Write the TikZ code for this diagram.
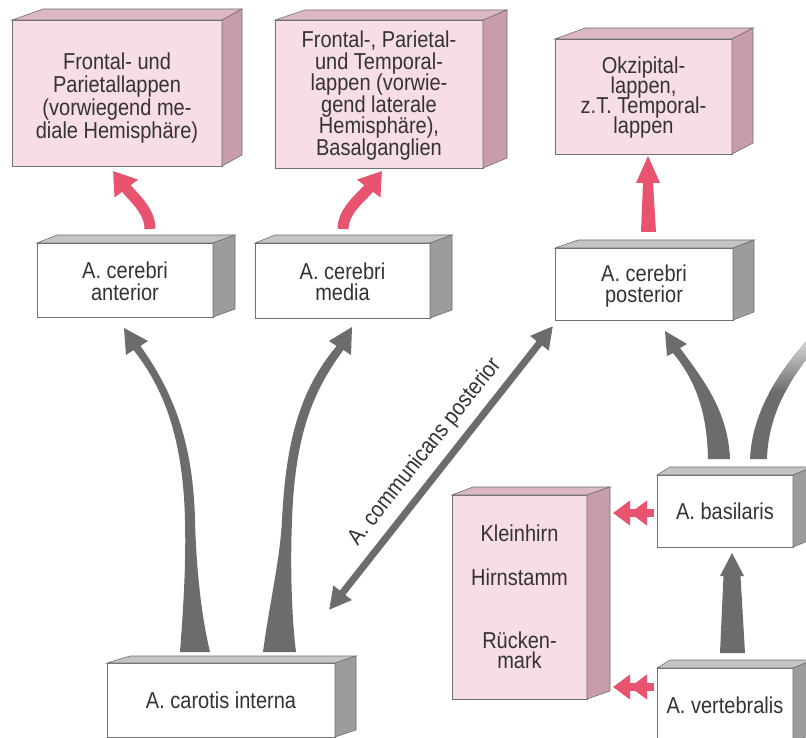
\documentclass[tikz,border=0pt]{standalone}
\usepackage{fontspec}
\setmainfont{Liberation Sans}[FakeStretch=0.87]
\usetikzlibrary{arrows.meta}
\definecolor{pinkfront}{HTML}{F7DDE4}
\definecolor{pinktop}{HTML}{DDB8C3}
\definecolor{pinkside}{HTML}{C79DAA}
\definecolor{graytop}{HTML}{C4C4C4}
\definecolor{grayside}{HTML}{9C9C9C}
\definecolor{edgecol}{HTML}{707070}
\definecolor{arrpink}{HTML}{E8536F}
\definecolor{arrgray}{HTML}{6C6C6C}
\definecolor{txt}{HTML}{333333}
% #1 node, #2 left depth dx, #3 right depth dx, #4 depth up, #5 top colour, #6 side colour
\newcommand{\cubefaces}[6]{%
  \filldraw[facedraw, fill=#5] (#1.north west) -- ([shift={(#2,-#4)}]#1.north west) -- ([shift={(#3,-#4)}]#1.north east) -- (#1.north east) -- cycle;
  \filldraw[facedraw, fill=#6] (#1.north east) -- ([shift={(#3,-#4)}]#1.north east) -- ([shift={(#3,-#4)}]#1.south east) -- (#1.south east) -- cycle;
}
\newcommand{\pushdown}[1]{\rule{0pt}{#1}}
\newcommand{\boxfont}[1]{\fontsize{23}{#1}\selectfont\lineskiplimit=-30pt\relax}
\begin{document}
\begin{tikzpicture}[x=1pt,y=-1pt,
  box/.style={draw=edgecol, line width=0.6pt, inner sep=0pt, outer sep=0pt, align=center, text=txt, font=\boxfont{21.5pt}},
  pinkbox/.style={box, fill=pinkfront},
  whitebox/.style={box, fill=white},
  facedraw/.style={draw=edgecol, line width=0.6pt},
  pinkarrow/.style={draw=arrpink, line width=11pt, -{Triangle[length=22pt,width=28pt]}},
  pinkfill/.style={fill=arrpink},
  grayfill/.style={fill=arrgray},
  grayarrow/.style={draw=arrgray, line width=7pt, {Triangle[length=22pt,width=22pt]}-{Triangle[length=22pt,width=22pt]}},
  pinkdouble/.style={draw=arrpink, line width=8pt, -{Triangle[length=17pt,width=24pt]Triangle[length=17pt,width=24pt]}},
  labeltext/.style={text=txt, font=\boxfont{22pt}, inner sep=0pt},
  ]
\clip (0,0) rectangle (806,738);
\fill[white] (0,0) rectangle (806,738);

% ---------- gray arrows (drawn first, boxes on top) ----------
% carotis -> cerebri anterior
\fill[grayfill] (180,652) .. controls (184,600) and (186,560) .. (185,520)
  .. controls (183,440) and (165,390) .. (133.6,350.1)
  -- (126,355) -- (124,328) -- (148,341) -- (140.4,345.9)
  .. controls (172,390) and (193,440) .. (195,520)
  .. controls (196,560) and (200,610) .. (210,652) -- cycle;
% carotis -> cerebri media
\fill[grayfill] (263,652) .. controls (270,600) and (280,560) .. (282,520)
  .. controls (286,440) and (300,390) .. (336.6,346)
  -- (329,341) -- (352,327) -- (351,355) -- (343.4,350)
  .. controls (310,395) and (295,440) .. (292,520)
  .. controls (290,570) and (292,620) .. (296,652) -- cycle;
% basilaris -> cerebri posterior
\fill[grayfill] (708,459) .. controls (707,410) and (695,380) .. (673,353)
  -- (667,356) -- (665,331) -- (687,344) -- (680,348)
  .. controls (702,378) and (728,410) .. (730,459) -- cycle;
% basilaris -> off to the right (other side), fading out at the edge
\begin{scope}
  \clip (750,459) .. controls (752,415) and (775,375) .. (812,335)
    -- (812,352) .. controls (785,385) and (768,420) .. (767,459) -- cycle;
  \fill[grayfill] (740,330) rectangle (815,462);
  \shade[top color=arrgray!12, bottom color=arrgray] (740,330) rectangle (815,392);
\end{scope}
% vertebralis -> basilaris
\fill[grayfill] (720,653) -- (723.5,576) -- (720,576) -- (732,553) -- (744,576) -- (740.5,576) -- (745,653) -- cycle;

% ---------- pink straight arrow (posterior -> occipital) ----------
\fill[pinkfill] (641,232) -- (643,183) -- (636,183) -- (648,156) -- (660,183) -- (653,183) -- (656,232) -- cycle;

% ---------- target boxes (pink) ----------
\node[pinkbox, minimum width=210pt, minimum height=146pt, font=\boxfont{23pt}] (lobe1) at (117,93)
  {\pushdown{26pt}Frontal- und\\Parietallappen\\(vorwiegend me-\\diale Hemisphäre)};
\cubefaces{lobe1}{31}{20}{11}{pinktop}{pinkside}
\node[pinkbox, minimum width=208pt, minimum height=148pt] (lobe2) at (379,94)
  {\pushdown{20pt}Frontal-, Parietal-\\und Temporal-\\lappen (vorwie-\\gend laterale\\Hemisphäre),\\Basalganglien};
\cubefaces{lobe2}{30}{24}{10}{pinktop}{pinkside}
\node[pinkbox, minimum width=177pt, minimum height=115pt, font=\boxfont{20pt}] (lobe3) at (643.5,96.5)
  {\pushdown{19pt}Okzipital-\\lappen,\\z.T. Temporal-\\lappen};
\cubefaces{lobe3}{30}{21}{11}{pinktop}{pinkside}
\node[pinkbox, minimum width=135pt, minimum height=204pt, font=\boxfont{20.5pt}] (klein) at (519.5,597)
  {Kleinhirn\\[23.5pt]Hirnstamm\\[42.5pt]Rücken-\\mark};
\cubefaces{klein}{21}{23}{8}{pinktop}{pinkside}

% ---------- artery boxes (white) ----------
\node[whitebox, minimum width=176pt, minimum height=74pt] (ant) at (125,280) {\pushdown{19pt}A. cerebri\\anterior};
\cubefaces{ant}{20}{22}{8}{graytop}{grayside}
\node[whitebox, minimum width=175pt, minimum height=75pt] (med) at (342.5,280.5) {\pushdown{19pt}A. cerebri\\media};
\cubefaces{med}{20}{22}{8}{graytop}{grayside}
\node[whitebox, minimum width=178pt, minimum height=72pt] (post) at (644,284) {\pushdown{21pt}A. cerebri\\posterior};
\cubefaces{post}{23}{21}{8}{graytop}{grayside}
\node[whitebox, minimum width=136pt, minimum height=72pt] (bas) at (725,511) {A. basilaris};
\cubefaces{bas}{13}{20}{8}{graytop}{grayside}
\node[whitebox, minimum width=136pt, minimum height=74pt] (vert) at (725,705) {A. vertebralis};
\cubefaces{vert}{13}{20}{8}{graytop}{grayside}
\node[whitebox, minimum width=228pt, minimum height=74pt] (car) at (221,700) {A. carotis interna};
\cubefaces{car}{23}{21}{7}{graytop}{grayside}

% ---------- pink curved arrows ----------
\draw[pinkarrow] ([shift={(25,-14)}]ant.north) .. controls (150,210) and (132,196) .. (113,171);
\draw[pinkarrow] ([shift={(0.5,-14)}]med.north) .. controls (343,210) and (363,196) .. (382,171);

% ---------- pink double arrows to Kleinhirn/Hirnstamm/Rückenmark ----------
\coordinate (kbTip) at (613,513);
\coordinate (kvTip) at (613,687);
\draw[pinkdouble] ([shift={(-3,2)}]bas.west) -- (kbTip);
\draw[pinkdouble] ([shift={(-3,-18)}]vert.west) -- (kvTip);

% ---------- A. communicans posterior ----------
\coordinate (cpLow) at (329,610);
\coordinate (cpHigh) at (553,326);
\draw[grayarrow] (cpLow) -- (cpHigh);
\node[labeltext, rotate=51.6] (cplabel) at (425,452) {A. communicans posterior};
\end{tikzpicture}
\end{document}
